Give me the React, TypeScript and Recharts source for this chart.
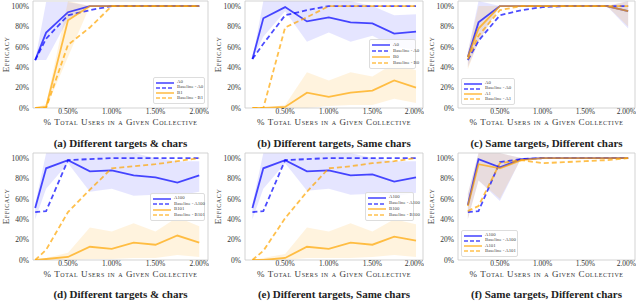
import React from 'react';
import { ComposedChart, Line, Area, XAxis, YAxis, ReferenceArea } from 'recharts';

const X_VALUES = [0.125, 0.25, 0.5, 0.75, 1.0, 1.25, 1.5, 1.75, 2.0];
const X_TICKS = [0.5, 1.0, 1.5, 2.0];
const Y_TICKS = [0, 20, 40, 60, 80, 100];

// (a) Different targets & chars
const A_LABELS = ['A0', 'Baseline - A0', 'B1', 'Baseline - B1'];
const A_S1 = [47, 74, 94, 100, 100, 100, 100, 100, 100];
const A_B1 = [47, 68, 91, 96, 100, 100, 100, 100, 100];
const A_S2 = [0, 1, 86, 100, 100, 100, 100, 100, 100];
const A_B2 = [0, 0, 62, 79, 100, 100, 100, 100, 100];
const A_R1 = [[47, 47], [47, 104], [87, 104], [100, 100], [100, 100], [100, 100], [100, 100], [100, 100], [100, 100]];
const A_R2 = [[0, 0], [0, 4], [50, 105], [100, 100], [100, 100], [100, 100], [100, 100], [100, 100], [100, 100]];

// (b) Different targets, Same chars
const B_LABELS = ['A0', 'Baseline - A0', 'B0', 'Baseline - B0'];
const B_S1 = [48, 88, 99, 85, 89, 84, 83, 73, 75];
const B_B1 = [48, 63, 91, 96, 100, 100, 100, 100, 100];
const B_S2 = [0, 0, 1, 15, 11, 15, 17, 27, 20];
const B_B2 = [0, 0, 79, 89, 100, 100, 100, 100, 100];
const B_R1 = [[48, 48], [70, 105], [95, 105], [65, 105], [74, 105], [65, 105], [71, 100], [60, 91], [57, 92]];
const B_R2 = [[0, 0], [0, 0], [0, 3], [0, 35], [2, 27], [3, 35], [3, 31], [9, 44], [5, 37]];

// (c) Same targets, Different chars
const C_LABELS = ['A0', 'Baseline - A0', 'A1', 'Baseline - A1'];
const C_S1 = [50, 84, 100, 100, 100, 100, 100, 100, 95];
const C_B1 = [47, 66, 91, 96, 99, 100, 100, 100, 100];
const C_S2 = [50, 78, 100, 100, 100, 100, 100, 100, 95];
const C_B2 = [48, 71, 96, 100, 100, 100, 100, 100, 100];
const C_R1 = [[40, 55], [65, 105], [100, 100], [100, 100], [100, 100], [100, 100], [100, 100], [100, 100], [78, 105]];
const C_R2 = [[38, 55], [65, 100], [100, 100], [100, 100], [100, 100], [100, 100], [100, 100], [100, 100], [80, 105]];

// (d) Different targets & chars
const D_LABELS = ['A100', 'Baseline - A100', 'B101', 'Baseline - B101'];
const D_S1 = [51, 90, 98, 87, 88, 83, 81, 76, 83];
const D_B1 = [47, 48, 98, 99, 100, 100, 100, 100, 100];
const D_S2 = [0, 1, 3, 13, 11, 17, 15, 24, 17];
const D_B2 = [0, 10, 47, 69, 90, 92, 94, 97, 100];
const D_R1 = [[40, 55], [70, 105], [95, 105], [67, 105], [70, 105], [63, 105], [64, 100], [63, 97], [67, 97]];
const D_R2 = [[0, 0], [0, 2], [0, 7], [1, 32], [1, 28], [2, 36], [2, 28], [5, 42], [3, 33]];

// (e) Different targets, Same chars
const E_LABELS = ['A100', 'Baseline - A100', 'B100', 'Baseline - B100'];
const E_S1 = [51, 90, 98, 87, 88, 83, 84, 77, 81];
const E_B1 = [47, 48, 98, 99, 100, 100, 100, 100, 100];
const E_S2 = [0, 0, 2, 13, 11, 17, 15, 23, 19];
const E_B2 = [0, 9, 41, 67, 90, 92, 95, 97, 100];
const E_R1 = [[40, 55], [70, 105], [95, 105], [68, 105], [70, 105], [64, 105], [65, 100], [62, 97], [66, 97]];
const E_R2 = [[0, 0], [0, 2], [0, 6], [2, 32], [2, 28], [2, 36], [3, 28], [5, 40], [3, 35]];

// (f) Same targets, Different chars
const F_LABELS = ['A100', 'Baseline - A100', 'A101', 'Baseline - A101'];
const F_S1 = [54, 99, 91, 99, 100, 100, 100, 100, 100];
const F_B1 = [47, 48, 96, 99, 100, 100, 100, 100, 100];
const F_S2 = [53, 94, 90, 98, 100, 100, 100, 100, 100];
const F_B2 = [48, 53, 95, 98, 95, 96, 97, 98, 100];
const F_R1 = [[40, 65], [78, 105], [58, 105], [100, 100], [100, 100], [100, 100], [100, 100], [100, 100], [100, 100]];
const F_R2 = [[40, 65], [78, 105], [60, 105], [100, 100], [100, 100], [100, 100], [100, 100], [100, 100], [100, 100]];

const BLUE = '#0000ff';
const ORANGE = '#ffa500';
const SERIF = '"Liberation Serif", "DejaVu Serif", serif';

const buildRows = (s1, b1, s2, b2, r1, r2) =>
  X_VALUES.map((x, i) => ({ x, s1: s1[i], b1: b1[i], s2: s2[i], b2: b2[i], r1: r1[i], r2: r2[i] }));

const YW = 33;
const XH = 10;

const YLabel = ({ viewBox }) => {
  const cx = viewBox.x + 6;
  const cy = viewBox.y + viewBox.height / 2;
  return (
    <text
      x={cx}
      y={cy}
      transform={`rotate(-90 ${cx} ${cy})`}
      textAnchor="middle"
      dominantBaseline="central"
      fontSize={9}
      fill="#333"
      style={{ fontFamily: SERIF, fontVariant: 'small-caps', letterSpacing: 0.6 }}
    >
      Efficacy
    </text>
  );
};

const LegendBox = ({ labels, box }) => {
  const items = [
    { color: BLUE, dash: false },
    { color: BLUE, dash: true },
    { color: ORANGE, dash: false },
    { color: ORANGE, dash: true },
  ];
  return (
    <div
      style={{
        position: 'absolute',
        left: box.left,
        top: box.top,
        width: box.width,
        height: box.height,
        background: 'rgba(255,255,255,0.85)',
        border: '1px solid #ddd',
        borderRadius: 2,
        boxSizing: 'border-box',
        padding: '2px 2px',
      }}
    >
      {items.map((it, i) => (
        <div key={i} style={{ display: 'flex', alignItems: 'center', whiteSpace: 'nowrap', height: (box.height - 6) / 4 }}>
          <svg width={18} height={4} style={{ marginRight: 3, flexShrink: 0 }}>
            <line
              x1={0}
              y1={2}
              x2={18}
              y2={2}
              stroke={it.color}
              strokeOpacity={0.7}
              strokeWidth={1.6}
              strokeDasharray={it.dash ? '4 2' : undefined}
            />
          </svg>
          <span style={{ fontFamily: SERIF, fontSize: 4.8, color: '#444', lineHeight: 1 }}>{labels[i]}</span>
        </div>
      ))}
    </div>
  );
};

const Panel = ({ plot, domain, rows, labels, legend, caption }) => {
  const width = YW + plot.w + 1;
  const height = 1 + plot.h + XH;
  return (
    <>
      <div style={{ position: 'absolute', left: plot.left - YW, top: plot.top - 1 }}>
        <ComposedChart width={width} height={height} data={rows} margin={{ top: 1, right: 1, bottom: 0, left: 0 }}>
          <XAxis
            type="number"
            dataKey="x"
            domain={domain}
            ticks={X_TICKS}
            allowDataOverflow
            height={XH}
            axisLine={false}
            tickLine={false}
            tickSize={1}
            tickMargin={0}
            tick={{ fontSize: 7.5, fill: '#333', fontFamily: SERIF }}
            tickFormatter={(v) => v.toFixed(2) + '%'}
          />
          <YAxis
            type="number"
            domain={[0, 105]}
            ticks={Y_TICKS}
            allowDataOverflow
            width={YW}
            axisLine={false}
            tickLine={false}
            tickSize={2}
            tickMargin={2}
            tick={{ fontSize: 7.5, fill: '#333', fontFamily: SERIF }}
            tickFormatter={(v) => v + '%'}
            label={<YLabel />}
          />
          <Area dataKey="r1" stroke="none" fill={BLUE} fillOpacity={0.1} isAnimationActive={false} />
          <Area dataKey="r2" stroke="none" fill={ORANGE} fillOpacity={0.13} isAnimationActive={false} />
          <Line dataKey="s1" stroke={BLUE} strokeOpacity={0.7} strokeWidth={1.8} dot={false} isAnimationActive={false} />
          <Line dataKey="b1" stroke={BLUE} strokeOpacity={0.7} strokeWidth={1.8} strokeDasharray="5 3" dot={false} isAnimationActive={false} />
          <Line dataKey="s2" stroke={ORANGE} strokeOpacity={0.7} strokeWidth={1.8} dot={false} isAnimationActive={false} />
          <Line dataKey="b2" stroke={ORANGE} strokeOpacity={0.7} strokeWidth={1.8} strokeDasharray="5 3" dot={false} isAnimationActive={false} />
          <ReferenceArea x1={domain[0]} x2={domain[1]} y1={0} y2={105} fill="none" stroke="#c8c8c8" strokeWidth={0.8} />
        </ComposedChart>
      </div>
      <div
        style={{
          position: 'absolute',
          left: plot.left + plot.w / 2 - 100,
          width: 200,
          top: plot.top + plot.h + 10,
          textAlign: 'center',
          fontFamily: SERIF,
          fontVariant: 'small-caps',
          fontSize: 9,
          letterSpacing: 0.6,
          lineHeight: '8px',
          color: '#333',
          whiteSpace: 'nowrap',
        }}
      >
        % Total Users in a Given Collective
      </div>
      <LegendBox labels={labels} box={legend} />
      <div
        style={{
          position: 'absolute',
          left: plot.left + plot.w / 2 - 120,
          width: 240,
          top: caption.top,
          textAlign: 'center',
          fontFamily: SERIF,
          fontWeight: 'bold',
          fontSize: 11,
          lineHeight: '12px',
          color: '#222',
        }}
      >
        {caption.text}
      </div>
    </>
  );
};

export default function App() {
  return (
    <div style={{ position: 'absolute', left: 0, top: 0, width: 640, height: 301, background: '#fff', overflow: 'hidden' }}>
      <Panel
        plot={{ left: 33, top: 1, w: 175, h: 107 }}
        domain={[0.1, 2.1]}
        rows={buildRows(A_S1, A_B1, A_S2, A_B2, A_R1, A_R2)}
        labels={A_LABELS}
        legend={{ left: 153, top: 77, width: 52, height: 27 }}
        caption={{ top: 137, text: '(a) Different targets & chars' }}
      />
      <Panel
        plot={{ left: 245, top: 1, w: 178, h: 107 }}
        domain={[0.04, 2.08]}
        rows={buildRows(B_S1, B_B1, B_S2, B_B2, B_R1, B_R2)}
        labels={B_LABELS}
        legend={{ left: 369, top: 39, width: 47, height: 30 }}
        caption={{ top: 137, text: '(b) Different targets, Same chars' }}
      />
      <Panel
        plot={{ left: 458, top: 1, w: 177, h: 107 }}
        domain={[0.01, 2.08]}
        rows={buildRows(C_S1, C_B1, C_S2, C_B2, C_R1, C_R2)}
        labels={C_LABELS}
        legend={{ left: 461, top: 78, width: 54, height: 27 }}
        caption={{ top: 137, text: '(c) Same targets, Different chars' }}
      />
      <Panel
        plot={{ left: 33, top: 153, w: 175, h: 107 }}
        domain={[0.1, 2.1]}
        rows={buildRows(D_S1, D_B1, D_S2, D_B2, D_R1, D_R2)}
        labels={D_LABELS}
        legend={{ left: 150, top: 193, width: 55, height: 28 }}
        caption={{ top: 288, text: '(d) Different targets & chars' }}
      />
      <Panel
        plot={{ left: 245, top: 153, w: 178, h: 107 }}
        domain={[0.04, 2.08]}
        rows={buildRows(E_S1, E_B1, E_S2, E_B2, E_R1, E_R2)}
        labels={E_LABELS}
        legend={{ left: 365, top: 192, width: 49, height: 29 }}
        caption={{ top: 288, text: '(e) Different targets, Same chars' }}
      />
      <Panel
        plot={{ left: 458, top: 153, w: 177, h: 107 }}
        domain={[0.01, 2.08]}
        rows={buildRows(F_S1, F_B1, F_S2, F_B2, F_R1, F_R2)}
        labels={F_LABELS}
        legend={{ left: 461, top: 230, width: 57, height: 27 }}
        caption={{ top: 288, text: '(f) Same targets, Different chars' }}
      />
    </div>
  );
}
